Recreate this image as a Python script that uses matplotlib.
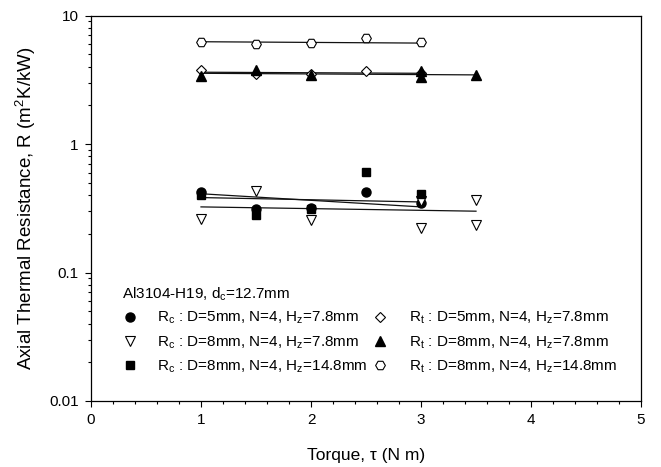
import matplotlib
matplotlib.use("Agg")
import matplotlib.pyplot as plt
from matplotlib.ticker import FixedLocator, NullFormatter, MultipleLocator

plt.rcParams['font.family'] = ['Liberation Sans', 'DejaVu Sans']
plt.rcParams['mathtext.fontset'] = 'custom'
plt.rcParams['mathtext.rm'] = 'Liberation Sans'
plt.rcParams['mathtext.it'] = 'Liberation Sans:italic'
plt.rcParams['mathtext.default'] = 'regular'

# ---------------- data ----------------
x_rc5 = [1, 1.5, 2, 2.5, 3]
rc5 = [0.42, 0.31, 0.32, 0.42, 0.35]
x_rc8 = [1, 1.5, 2, 3, 3, 3.5, 3.5]
rc8 = [0.26, 0.43, 0.255, 0.36, 0.22, 0.365, 0.235]
x_rc8h = [1, 1.5, 2, 2.5, 3]
rc8h = [0.40, 0.28, 0.31, 0.61, 0.41]
x_rt5 = [1, 1.5, 2, 2.5, 3]
rt5 = [3.78, 3.5, 3.5, 3.72, 3.55]
x_rt8 = [1, 1.5, 2, 3, 3, 3.5]
rt8 = [3.4, 3.74, 3.46, 3.67, 3.32, 3.44]
x_rt8h = [1, 1.5, 2, 2.5, 3]
rt8h = [6.26, 6.0, 6.07, 6.7, 6.26]

# fitted trend lines (end values)
fit_x_a = [1, 3]
fit_rc_a = [0.41, 0.324]
fit_rc_b = [0.383, 0.354]
fit_x_c = [1, 3.5]
fit_rc_c = [0.324, 0.30]
fit_rt5 = [3.62, 3.55]
fit_rt8 = [3.55, 3.45]
fit_rt8h = [6.25, 6.1]

labels = [r"R$_{c}$ : D=5mm, N=4, H$_{z}$=7.8mm",
          r"R$_{c}$ : D=8mm, N=4, H$_{z}$=7.8mm",
          r"R$_{c}$ : D=8mm, N=4, H$_{z}$=14.8mm",
          r"R$_{t}$ : D=5mm, N=4, H$_{z}$=7.8mm",
          r"R$_{t}$ : D=8mm, N=4, H$_{z}$=7.8mm",
          r"R$_{t}$ : D=8mm, N=4, H$_{z}$=14.8mm"]

fig = plt.figure(figsize=(6.61, 4.67), dpi=100)
ax = fig.add_axes([91/661, 1-401/467, 550/661, 385.5/467])

lc = '#111111'
ax.plot(fit_x_a, fit_rc_a, color=lc, lw=0.9, zorder=2)
ax.plot(fit_x_a, fit_rc_b, color=lc, lw=0.9, zorder=2)
ax.plot(fit_x_c, fit_rc_c, color=lc, lw=0.9, zorder=2)
ax.plot(fit_x_a, fit_rt5, color=lc, lw=0.9, zorder=2)
ax.plot(fit_x_c, fit_rt8, color=lc, lw=0.9, zorder=2)
ax.plot(fit_x_a, fit_rt8h, color=lc, lw=0.9, zorder=2)

kw_f = dict(ls='none', color='black', mec='black')
kw_o = dict(ls='none', mfc='white', mec='black', mew=0.8)
h1, = ax.plot(x_rc5, rc5, marker='o', ms=6.5, **kw_f, zorder=3)
h2, = ax.plot(x_rc8, rc8, marker='v', ms=7, **kw_o, zorder=3)
h3, = ax.plot(x_rc8h, rc8h, marker='s', ms=5.8, **kw_f, zorder=3)
h4, = ax.plot(x_rt5, rt5, marker='D', ms=5.5, **kw_o, zorder=3)
h5, = ax.plot(x_rt8, rt8, marker='^', ms=7, **kw_f, zorder=3)
h6, = ax.plot(x_rt8h, rt8h, marker='H', ms=7, **kw_o, zorder=3)

ax.set_yscale('log')
ax.set_xlim(0, 5)
ax.set_ylim(0.01, 10)
ax.xaxis.set_major_locator(MultipleLocator(1))
ax.xaxis.set_minor_locator(MultipleLocator(0.2))
ax.yaxis.set_major_locator(FixedLocator([0.01, 0.1, 1, 10]))
ax.set_yticklabels(['0.01', '0.1', '1', '10'])
minors = [m * 10.0**e for e in (-2, -1, 0) for m in range(2, 10)]
ax.yaxis.set_minor_locator(FixedLocator(minors))
ax.yaxis.set_minor_formatter(NullFormatter())
ax.tick_params(which='major', direction='out', length=4, width=0.8, labelsize=11, pad=5)
ax.tick_params(which='minor', direction='out', length=2.5, width=0.8)
for s in ax.spines.values():
    s.set_linewidth(0.9)

ax.set_xlabel(u"Torque, \u03c4 (N m)", fontsize=12.5)
ax.xaxis.set_label_coords(0.5, -0.122)
ax.set_ylabel(r"Axial Thermal Resistance, R (m$^{2}$K/kW)", fontsize=13.5)
ax.yaxis.set_label_coords(-0.096, 0.5)

ax.text((122-91)/550, (401-294)/385.5, r"Al3104-H19, d$_{c}$=12.7mm",
        transform=ax.transAxes, fontsize=11, va='center', ha='left')

leg1 = ax.legend([h1, h2, h3], labels[:3], loc='upper left',
                 bbox_to_anchor=((124-91)/550, (401-310)/385.5),
                 frameon=False, fontsize=11, handlelength=0.8, handletextpad=1.37,
                 borderpad=0, borderaxespad=0, labelspacing=0.52, numpoints=1)
ax.add_artist(leg1)
ax.legend([h4, h5, h6], labels[3:], loc='upper left',
          bbox_to_anchor=((374-91)/550, (401-310)/385.5),
          frameon=False, fontsize=11, handlelength=0.8, handletextpad=1.5,
          borderpad=0, borderaxespad=0, labelspacing=0.52, numpoints=1)

fig.savefig('out.png', dpi=100)
